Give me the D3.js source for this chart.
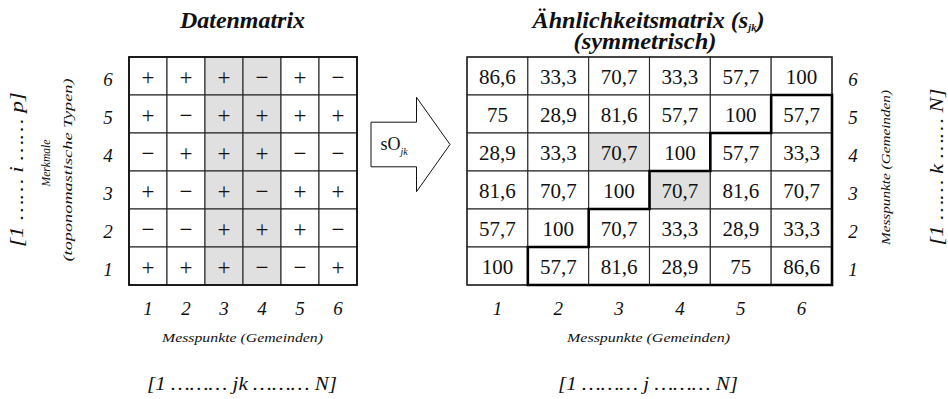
<!DOCTYPE html>
<html>
<head>
<meta charset="utf-8">
<script src="https://cdn.jsdelivr.net/npm/d3@7"></script>
<style>
  body { margin: 0; background: #fff; }
</style>
</head>
<body>
<script>
// data: rows listed top to bottom (6 ... 1), columns 1 ... 6
var merkmale = [6, 5, 4, 3, 2, 1];
var messpunkte = [1, 2, 3, 4, 5, 6];

var datenmatrix = [
  ["+", "+", "+", "−", "+", "−"],
  ["+", "−", "+", "+", "+", "+"],
  ["−", "+", "+", "+", "−", "−"],
  ["+", "−", "+", "−", "+", "+"],
  ["−", "−", "+", "+", "+", "−"],
  ["+", "+", "+", "−", "−", "+"]
];

var aehnlichkeit = [
  [86.6, 33.3, 70.7, 33.3, 57.7, 100],
  [75, 28.9, 81.6, 57.7, 100, 57.7],
  [28.9, 33.3, 70.7, 100, 57.7, 33.3],
  [81.6, 70.7, 100, 70.7, 81.6, 70.7],
  [57.7, 100, 70.7, 33.3, 28.9, 33.3],
  [100, 57.7, 81.6, 28.9, 75, 86.6]
];

// highlighted columns (left) and cells [row, col] (right)
var markedCols = [3, 4];
var markedCells = [[4, 3], [3, 4]];

var W = 948, H = 399;
var SERIF = "Liberation Serif";
var svg = d3.select("body").append("svg").attr("width", W).attr("height", H);

var grey = "#e0e0e0", lineCol = "#2a2a2a";
var de = d3.formatLocale({decimal: ",", thousands: ".", grouping: [3], currency: ["", "€"]});
var fmt = de.format(".1~f");

// scales
var yRow = d3.scaleBand().domain(merkmale).range([57, 285]);
var xL = d3.scaleBand().domain(messpunkte).range([129, 357]);
var xR = d3.scaleBand().domain(messpunkte).range([467, 832]);

//flatten matrices into cell lists
function cells(matrix) {
  var out = [];
  matrix.forEach(function(row, i) {
    row.forEach(function(v, j) { out.push({row: merkmale[i], col: messpunkte[j], v: v}); });
  });
  return out;
}

// ---------- left: Datenmatrix ----------
var gL = svg.append("g");
gL.selectAll("rect").data(cells(datenmatrix)).enter().append("rect")
  .attr("x", function(d) { return xL(d.col); })
  .attr("y", function(d) { return yRow(d.row); })
  .attr("width", xL.bandwidth()).attr("height", yRow.bandwidth())
  .style("fill", function(d) { return markedCols.indexOf(d.col) >= 0 ? grey : "#fff"; })
  .style("stroke", lineCol).style("stroke-width", 1.1);
gL.append("rect").attr("x", 129).attr("y", 57).attr("width", 228).attr("height", 228)
  .style("fill", "none").style("stroke", "#111").style("stroke-width", 1.8);
gL.selectAll("text.cell").data(cells(datenmatrix)).enter().append("text")
  .attr("class", "cell")
  .attr("x", function(d) { return xL(d.col) + xL.bandwidth() / 2; })
  .attr("y", function(d) { return yRow(d.row) + yRow.bandwidth() / 2 + 9; })
  .attr("text-anchor", "middle").style("font-size", "23px")
  .text(function(d) { return d.v; });

// row + column labels
gL.selectAll("text.rl").data(merkmale).enter().append("text").attr("class", "rl")
  .attr("x", 108).attr("y", function(d) { return yRow(d) + yRow.bandwidth() / 2 + 10; })
  .attr("text-anchor", "middle").style("font-size", "19px").style("font-style", "italic")
  .text(function(d) { return d; });
gL.selectAll("text.cl").data(messpunkte).enter().append("text").attr("class", "cl")
  .attr("x", function(d) { return xL(d) + xL.bandwidth() / 2; }).attr("y", 315)
  .attr("text-anchor", "middle").style("font-size", "19px").style("font-style", "italic")
  .text(function(d) { return d; });

// ---------- right: Ähnlichkeitsmatrix ----------
var gR = svg.append("g");
function isMarked(d) {
  return markedCells.some(function(c) { return c[0] === d.row && c[1] === d.col; });
}
gR.selectAll("rect").data(cells(aehnlichkeit)).enter().append("rect")
  .attr("x", function(d) { return xR(d.col); })
  .attr("y", function(d) { return yRow(d.row); })
  .attr("width", xR.bandwidth()).attr("height", yRow.bandwidth())
  .style("fill", function(d) { return isMarked(d) ? grey : "#fff"; })
  .style("stroke", lineCol).style("stroke-width", 1.1);
gR.append("rect").attr("x", 467).attr("y", 57).attr("width", 365).attr("height", 228)
  .style("fill", "none").style("stroke", "#222").style("stroke-width", 1.3);

// thick staircase around the cells right of the diagonal (col > row)
var n = messpunkte.length;
var pts = [[xR(2), yRow(1) + yRow.bandwidth()]];
for (var r = 1; r < n; r++) {
  pts.push([xR(r + 1), yRow(r)]);
  pts.push([r < n - 1 ? xR(r + 2) : xR(n) + xR.bandwidth(), yRow(r)]);
}
pts.push([xR(n) + xR.bandwidth(), yRow(1) + yRow.bandwidth()]);
gR.append("path").attr("d", d3.line()(pts) + "Z")
  .style("fill", "none").style("stroke", "#000").style("stroke-width", 2.6)
  .style("stroke-linejoin", "miter").style("stroke-linecap", "square");

gR.selectAll("text.cell").data(cells(aehnlichkeit)).enter().append("text")
  .attr("class", "cell")
  .attr("x", function(d) { return xR(d.col) + xR.bandwidth() / 2; })
  .attr("y", function(d) { return yRow(d.row) + yRow.bandwidth() / 2 + 7.5; })
  .attr("text-anchor", "middle").style("font-size", "21px")
  .text(function(d) { return fmt(d.v); });

gR.selectAll("text.rl").data(merkmale).enter().append("text").attr("class", "rl")
  .attr("x", 853).attr("y", function(d) { return yRow(d) + yRow.bandwidth() / 2 + 10; })
  .attr("text-anchor", "middle").style("font-size", "19px").style("font-style", "italic")
  .text(function(d) { return d; });
gR.selectAll("text.cl").data(messpunkte).enter().append("text").attr("class", "cl")
  .attr("x", function(d) { return xR(d) + xR.bandwidth() / 2; }).attr("y", 315)
  .attr("text-anchor", "middle").style("font-size", "19px").style("font-style", "italic")
  .text(function(d) { return d; });

// ---------- titles ----------
svg.append("text").attr("x", 242.5).attr("y", 27.5).attr("text-anchor", "middle")
  .style("font-size", "23px").style("font-weight", "bold").style("font-style", "italic")
  .attr("textLength", 125).attr("lengthAdjust", "spacingAndGlyphs")
  .text("Datenmatrix");

var t1 = svg.append("text").attr("x", 648.5).attr("y", 28).attr("text-anchor", "middle")
  .style("font-size", "23px").style("font-weight", "bold").style("font-style", "italic")
  .attr("textLength", 232).attr("lengthAdjust", "spacingAndGlyphs");
t1.append("tspan").text("Ähnlichkeitsmatrix (s");
t1.append("tspan").attr("dy", 3).style("font-size", "10px").text("jk");
t1.append("tspan").attr("dy", -3).text(")");
svg.append("text").attr("x", 645).attr("y", 49).attr("text-anchor", "middle")
  .style("font-size", "23px").style("font-weight", "bold").style("font-style", "italic")
  .attr("textLength", 143).attr("lengthAdjust", "spacingAndGlyphs")
  .text("(symmetrisch)");

// ---------- bottom labels ----------
function italic(x, y, size, str, len) {
  var t = svg.append("text").attr("x", x).attr("y", y).attr("text-anchor", "middle")
    .style("font-size", size + "px").style("font-style", "italic").text(str);
  if (len) t.attr("textLength", len).attr("lengthAdjust", "spacingAndGlyphs");
  return t;
}
italic(242.5, 341.5, 13, "Messpunkte (Gemeinden)", 161);
italic(648.5, 341.5, 13, "Messpunkte (Gemeinden)", 163);
italic(242, 390, 19, "[1 ……… jk ……… N]", 190);
italic(648, 390, 19, "[1 ……… j ……… N]", 180);

// ---------- rotated side labels ----------
function vertical(x, y, size, str, len) {
  svg.append("text").attr("transform", "translate(" + x + "," + y + ") rotate(-90)")
    .attr("text-anchor", "middle").style("font-size", size + "px").style("font-style", "italic")
    .attr("textLength", len).attr("lengthAdjust", "spacingAndGlyphs")
    .text(str);
}
vertical(23, 169.5, 19, "[1 …… i …… p]", 155);
vertical(50, 163, 12, "Merkmale", 47);
vertical(72, 170, 13.5, "(toponomastische Typen)", 183);
vertical(890, 167.5, 13, "Messpunkte (Gemeinden)", 155);
vertical(943, 167, 19, "[1 …… k …… N]", 157);

// ---------- arrow between the matrices ----------
var ax0 = xL.range()[1] + 14, axTip = xR.range()[0] - 17, axHead = ax0 + 45.5;
var acy = 144.5, bodyH = 22.3, headH = 47.2;
var arrow = [[ax0, acy - bodyH], [axHead, acy - bodyH], [axHead, acy - headH], [axTip, acy],
             [axHead, acy + headH], [axHead, acy + bodyH], [ax0, acy + bodyH]];
svg.append("path").attr("d", d3.line()(arrow) + "Z")
  .style("fill", "#fff").style("stroke", "#111").style("stroke-width", 1);
var so = svg.append("text").attr("x", ax0 + 9.5).attr("y", 149.5).style("font-size", "18px");
so.append("tspan").text("sO");
so.append("tspan").attr("dy", 5).style("font-size", "10px").style("font-style", "italic").text("jk");

// same serif face everywhere
svg.selectAll("text").style("font-family", SERIF).style("fill", "#111");
</script>
</body>
</html>
